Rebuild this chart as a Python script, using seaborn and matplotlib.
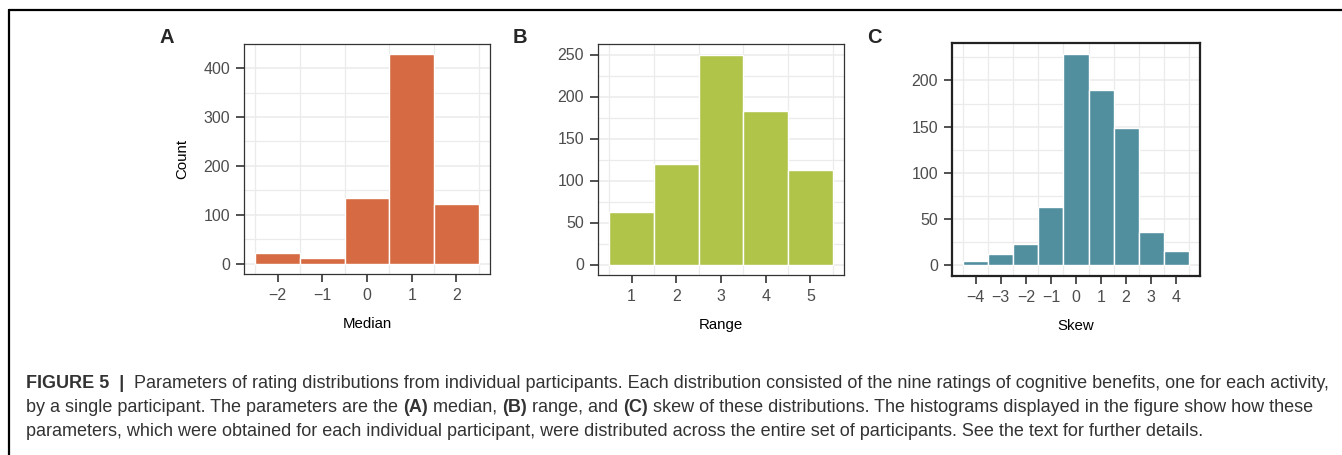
import numpy as np
import pandas as pd
import matplotlib
matplotlib.use("Agg")
import matplotlib.pyplot as plt
import seaborn as sns
from matplotlib.ticker import FixedLocator, MultipleLocator
from matplotlib.lines import Line2D

# ---- data ----
median_vals = [-2, -1, 0, 1, 2]
median_counts = [22, 12, 135, 428, 122]
range_vals = [1, 2, 3, 4, 5]
range_counts = [62, 120, 250, 183, 112]
skew_vals = [-4, -3, -2, -1, 0, 1, 2, 3, 4]
skew_counts = [5, 12, 23, 63, 229, 190, 149, 36, 16]

panel_letters = ["A", "B", "C"]
x_titles = ["Median", "Range", "Skew"]
y_title = "Count"
caption_lines = [
    [("FIGURE 5  |  ", True), ("Parameters of rating distributions from individual participants. Each distribution consisted of the nine ratings of cognitive benefits, one for each activity,", False)],
    [("by a single participant. The parameters are the ", False), ("(A)", True), (" median, ", False), ("(B)", True), (" range, and ", False), ("(C)", True), (" skew of these distributions. The histograms displayed in the figure show how these", False)],
    [("parameters, which were obtained for each individual participant, were distributed across the entire set of participants. See the text for further details.", False)],
]

sns.set_theme(style="white")
plt.rcParams["font.family"] = ["Liberation Sans", "DejaVu Sans"]

W, H = 1342, 455
fig = plt.figure(figsize=(W / 100, H / 100), dpi=100)


def rect(l, r, t, b):
    return [l / W, 1 - b / H, (r - l) / W, (b - t) / H]


panels = [
    dict(x=median_vals, w=median_counts, color="#D66A42", box=(244, 490, 44, 274),
         ystep=100, spine_lw=0.9),
    dict(x=range_vals, w=range_counts, color="#B0C44A", box=(598, 844, 44, 275),
         ystep=50, spine_lw=0.9),
    dict(x=skew_vals, w=skew_counts, color="#528F9E", box=(952, 1200, 43, 276),
         ystep=50, spine_lw=1.6),
]

for i, p in enumerate(panels):
    ax = fig.add_axes(rect(*p["box"]))
    df = pd.DataFrame({"value": p["x"], "count": p["w"]})
    sns.histplot(data=df, x="value", weights="count", discrete=True, shrink=1,
                 color=p["color"], edgecolor="white", linewidth=1.0, alpha=1.0, ax=ax)
    xs = p["x"]
    lo, hi = min(xs) - 0.5, max(xs) + 0.5
    ex = 0.05 * (hi - lo)
    ax.set_xlim(lo - ex, hi + ex)
    ymax = max(p["w"])
    ax.set_ylim(-0.05 * ymax, 1.05 * ymax)
    ax.set_xticks(xs)
    yt = np.arange(0, ymax + 1, p["ystep"])
    ax.set_yticks(yt)
    ax.xaxis.set_minor_locator(FixedLocator(np.arange(lo, hi + 0.01, 1.0)))
    ax.yaxis.set_minor_locator(MultipleLocator(p["ystep"] / 2))
    ax.grid(which="minor", axis="both", color="#EBEBEB", lw=0.9)
    ax.grid(which="major", axis="y", color="#EBEBEB", lw=1.1)
    ax.grid(which="major", axis="x", visible=False)
    ax.set_axisbelow(True)
    ax.tick_params(which="minor", length=0)
    ax.tick_params(which="major", length=6, width=1.2, color="#333333",
                   labelsize=11.5, labelcolor="#4D4D4D", pad=4,
                   bottom=True, left=True)
    for s in ax.spines.values():
        s.set_color("#333333" if i < 2 else "#222222")
        s.set_linewidth(p["spine_lw"])
        s.set_visible(True)
    ax.set_xlabel(x_titles[i], fontsize=10.8, color="black", labelpad=10)
    ax.set_ylabel(y_title if i == 0 else "", fontsize=10.8, color="black", labelpad=10)
    fig.text((p["box"][0] - 85) / W, 1 - 37.5 / H, panel_letters[i], fontsize=14.5,
             fontweight="bold", ha="left", va="center")

# figure frame (top and left lines)
fig.add_artist(Line2D([9 / W, 1.0], [1 - 10 / H, 1 - 10 / H], color="black", lw=1.6,
                      transform=fig.transFigure))
fig.add_artist(Line2D([9 / W, 9 / W], [1 - 10 / H, 0.0], color="black", lw=1.6,
                      transform=fig.transFigure))

# caption, built from bold/regular pieces
renderer = fig.canvas.get_renderer()
cap_color = "#333333"
cap_y = [383, 407.5, 432]
x0 = 26.0
cap_fs = 13.0


def draw_line(line, yy, fs):
    x = x0
    for txt, bold in line:
        t = fig.text(x / W, 1 - yy / H, txt, fontsize=fs, color=cap_color,
                     fontweight="bold" if bold else "normal", ha="left", va="center")
        bb = t.get_window_extent(renderer=renderer)
        x += bb.width


for line, yy in zip(caption_lines, cap_y):
    draw_line(line, yy, cap_fs)

fig.savefig("out.png", dpi=100)
